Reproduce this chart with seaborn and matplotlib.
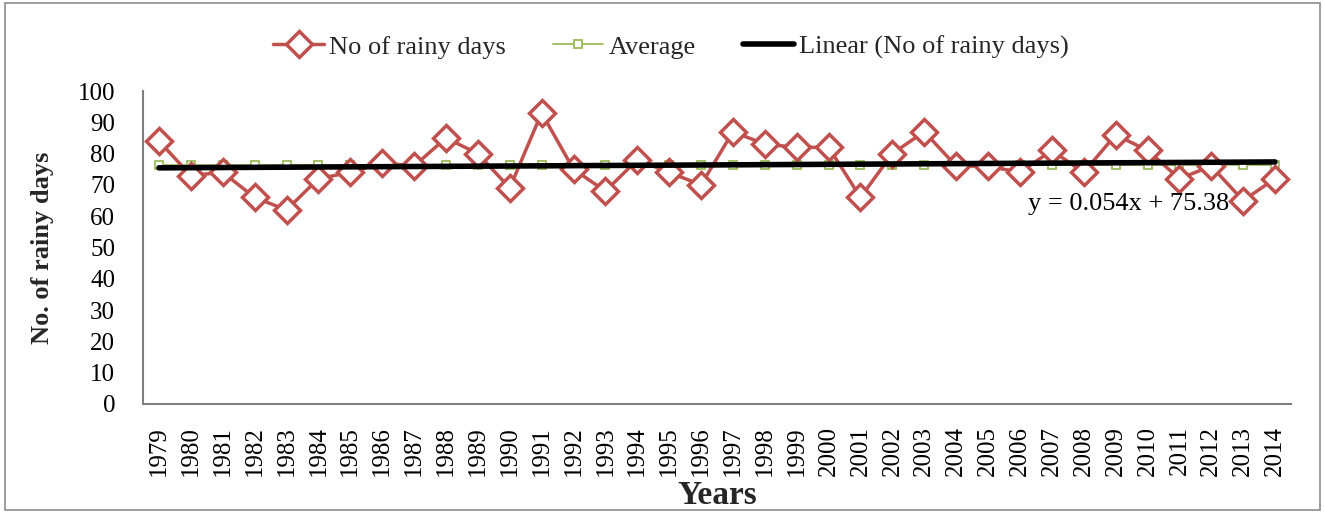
import numpy as np
import pandas as pd
import matplotlib
matplotlib.use("Agg")
import matplotlib.pyplot as plt
import seaborn as sns
from matplotlib.patches import Rectangle

years = list(range(1979, 2015))
rainy_days = [84, 73, 74, 66, 62, 72, 74, 77, 76, 85,
              80, 69, 93, 75, 68, 78, 74, 70, 87, 83,
              82, 82, 66, 80, 87, 76, 76, 74, 81, 74,
              86, 81, 72, 76, 65, 72]
average = [76.4] * len(years)
y_ticks = [0, 10, 20, 30, 40, 50, 60, 70, 80, 90, 100]
equation = "y = 0.054x + 75.38"

df = pd.DataFrame({"idx": np.arange(len(years)), "year": years,
                   "rainy": rainy_days, "avg": average})

sns.set_theme(style="white")
plt.rcParams['font.family'] = ['Liberation Serif', 'DejaVu Serif']

fig = plt.figure(figsize=(13.25, 5.12), dpi=100)
ax = fig.add_axes([143/1325, 1-404/512, (1291-143)/1325, (404-91)/512])

red = "#C0504D"
green = "#9BBB59"

sns.lineplot(data=df, x="idx", y="rainy", ax=ax, color=red, lw=2.5,
             marker="D", markersize=13, markerfacecolor="white",
             markeredgecolor=red, markeredgewidth=2.5,
             label="No of rainy days", zorder=3)
sns.lineplot(data=df, x="idx", y="avg", ax=ax, color=green, lw=1.3,
             marker="s", markersize=6, markerfacecolor="white",
             markeredgecolor=green, markeredgewidth=1.3,
             label="Average", zorder=2)
sns.regplot(data=df, x="idx", y="rainy", ax=ax, scatter=False, ci=None,
            truncate=True, line_kws=dict(color="black", lw=4, solid_capstyle="round",
                                          zorder=4),
            label="Linear (No of rainy days)")

ax.set_xlim(-0.5, len(years) - 0.5)
ax.set_ylim(0, 100)
ax.set_yticks(y_ticks)
ax.set_yticklabels([str(t) for t in y_ticks], fontsize=18)
ax.set_xticks(np.arange(len(years)))
ax.set_xticklabels([str(y) for y in years], rotation=90, fontsize=18)
ax.set_xticks(np.arange(len(years) + 1) - 0.5, minor=True)
ax.tick_params(axis="x", which="major", length=0, pad=16)
ax.tick_params(axis="x", which="minor", length=7, color="#808080", width=1.2, direction="out")
ax.tick_params(axis="y", which="major", length=8, color="#808080", width=1.2, direction="out", pad=12)
ax.tick_params(axis="both", labelcolor="black")

for s in ["top", "right"]:
    ax.spines[s].set_visible(False)
for s in ["left", "bottom"]:
    ax.spines[s].set_color("#808080")
    ax.spines[s].set_linewidth(1.5)

ax.set_ylabel("No. of rainy days", fontsize=19, fontweight="bold")
ax.yaxis.set_label_coords((43 - 143) / 1148, 0.5)
ax.set_xlabel("Years", fontsize=24, fontweight="bold")
ax.xaxis.set_label_coords(0.5, (404 - 495) / 313)
ax.xaxis.label.set_va("center")
ax.yaxis.label.set_va("center")

ax.text(30.4, 64, equation, fontsize=19, ha="center", va="center", color="black")

handles, labels = ax.get_legend_handles_labels()
if ax.get_legend() is not None:
    ax.get_legend().remove()
fig.legend(handles, labels, loc="center", bbox_to_anchor=(671/1325, 1-47/512), ncol=3,
           frameon=False, fontsize=19, handlelength=1.9, columnspacing=1.8, handletextpad=0.2)

fig.patches.append(Rectangle((0.004, 0.004), 0.992, 0.99, transform=fig.transFigure,
                             fill=False, edgecolor="#8c8c8c", lw=1.2))

fig.savefig("out.png", dpi=100)
